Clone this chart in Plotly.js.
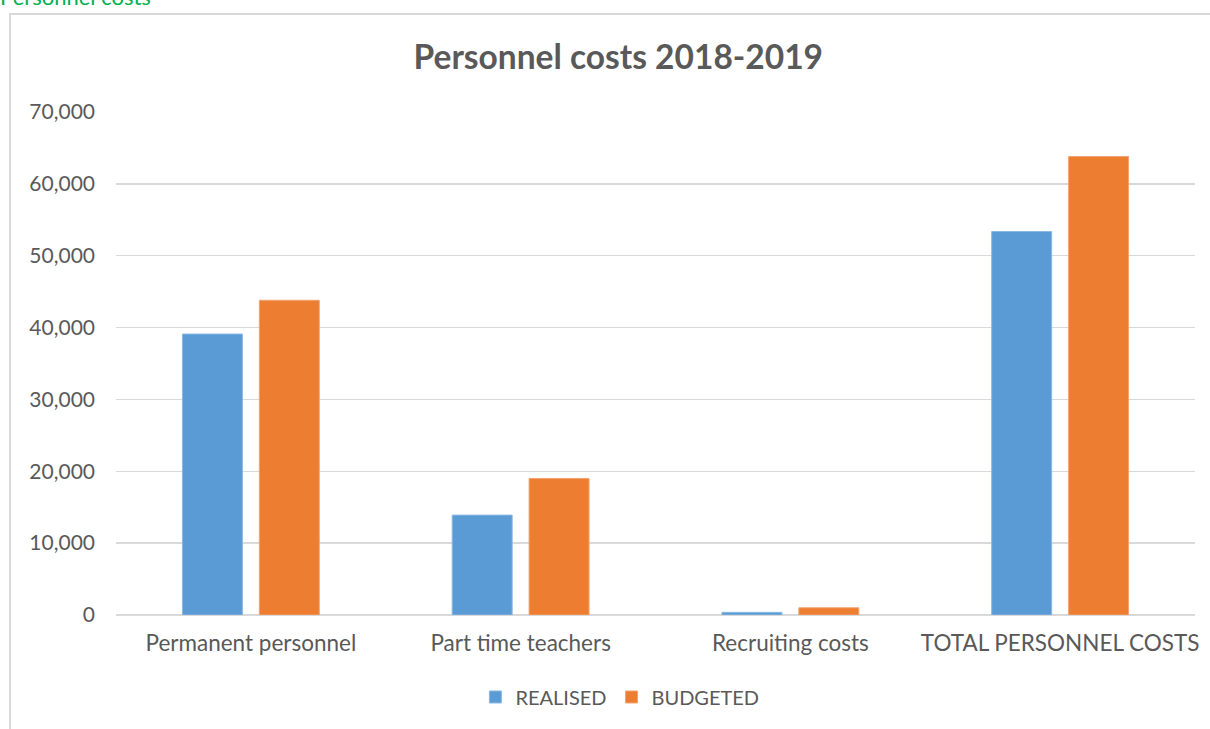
<!DOCTYPE html>
<html>
<head>
<meta charset="utf-8">
<script src="https://cdn.plot.ly/plotly-3.0.1.min.js"></script>
<style>
  html, body { margin: 0; padding: 0; background: #ffffff; overflow: hidden; }
  #wrap { position: relative; width: 1210px; height: 729px; }
  #frame { position: absolute; left: 9px; top: 13px; width: 1210px; height: 740px;
           border-left: 2px solid #d9d9d9; border-top: 2px solid #d9d9d9; box-sizing: border-box; }
  #heading { position: absolute; left: 0px; top: -14px; font-family: Lato, "Open Sans", sans-serif;
             font-size: 22px; color: #00b050; line-height: 22px; white-space: nowrap; }
  #chart { position: absolute; left: 0; top: 0; width: 1210px; height: 729px; }
</style>
</head>
<body>
<div id="wrap">
  <div id="frame"></div>
  <div id="heading">Personnel costs</div>
  <div id="chart"></div>
</div>
<script>
const categories = ["Permanent personnel", "Part time teachers", "Recruiting costs", "TOTAL PERSONNEL COSTS"];
const realised = [39100, 13900, 370, 53370];
const budgeted = [43800, 19000, 1000, 63800];
const seriesNames = ["REALISED", "BUDGETED"];
const tickValues = [0, 10000, 20000, 30000, 40000, 50000, 60000, 70000];
const tickLabels = ["0", "10,000", "20,000", "30,000", "40,000", "50,000", "60,000", "70,000"];

const font = "Lato, 'Open Sans', sans-serif";
const textColor = "#595959";

const traces = [
  { type: "bar", name: seriesNames[0], x: categories, y: realised,
    marker: { color: "#5b9bd5", line: { color: "#8ab8e3", width: 1 } }, hoverinfo: "x+y" },
  { type: "bar", name: seriesNames[1], x: categories, y: budgeted,
    marker: { color: "#ed7d31", line: { color: "#f3a470", width: 1 } }, hoverinfo: "x+y" }
];

const layout = {
  width: 1210, height: 729,
  paper_bgcolor: "rgba(0,0,0,0)", plot_bgcolor: "rgba(0,0,0,0)",
  margin: { l: 116, r: 15, t: 112, b: 114 },
  barmode: "group", bargap: 0.43, bargroupgap: 0.22,
  title: { text: "<b>Personnel costs 2018-2019</b>", font: { family: font, size: 33.5, color: textColor },
           x: 0.511, xanchor: "center", y: 0.922, yanchor: "middle" },
  font: { family: font, color: textColor },
  xaxis: { type: "category", showgrid: false, zeroline: false, showline: false, ticks: "",
           ticklabelstandoff: 12,
           tickfont: { family: font, size: 22.5, color: textColor }, ticklen: 0 },
  yaxis: { range: [0, 70000], tickvals: tickValues, ticktext: tickLabels, showgrid: true,
           gridcolor: "#d9d9d9", gridwidth: 1.5, zeroline: true, zerolinecolor: "#d9d9d9", zerolinewidth: 1.5,
           showline: false, ticks: "", ticklabelstandoff: 20,
           tickfont: { family: font, size: 21, color: textColor } },
  legend: { orientation: "h", x: 0.467, xanchor: "center", y: -0.163, yanchor: "middle",
            font: { family: font, size: 20, color: textColor }, itemwidth: 30, traceorder: "normal" },
  showlegend: true
};

Plotly.newPlot("chart", traces, layout, { displayModeBar: false, staticPlot: true });
</script>
</body>
</html>
